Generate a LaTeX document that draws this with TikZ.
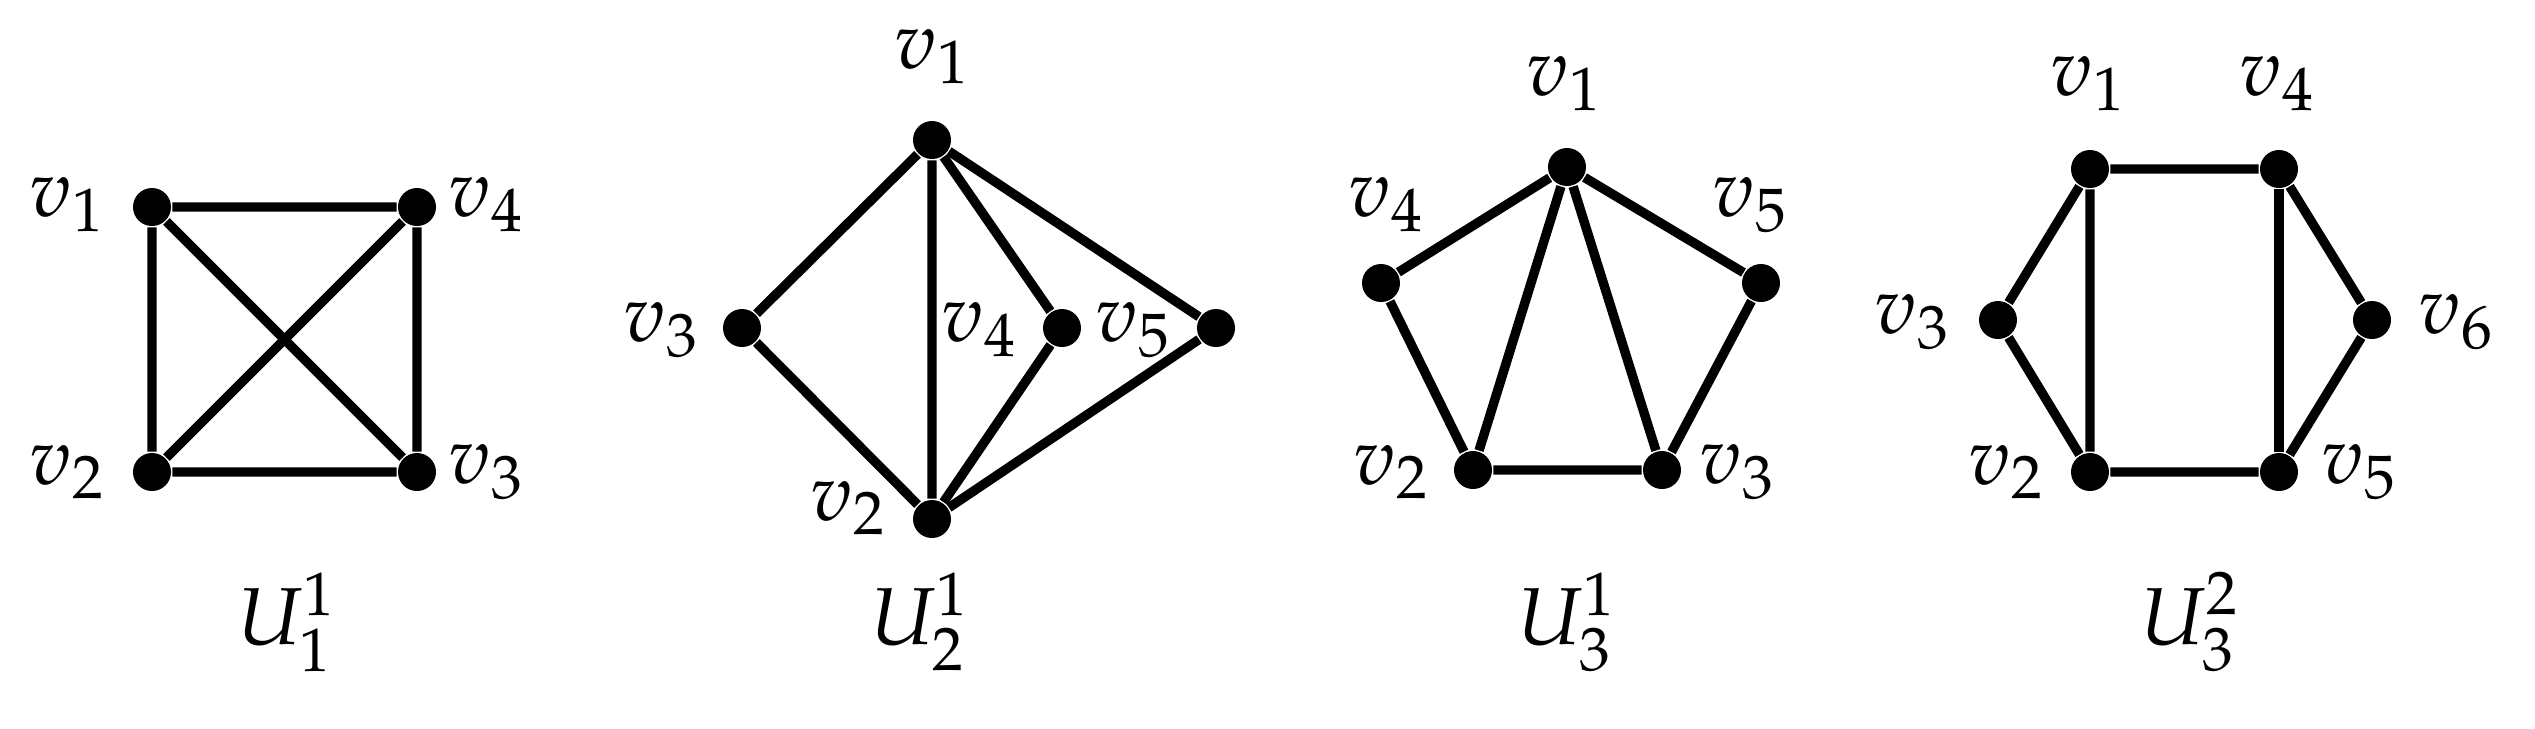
\documentclass[tikz,border=0pt]{standalone}
\usepackage{amsmath}
\usepackage{amssymb}
\usepackage{mathpazo}
\usetikzlibrary{calc}

\begin{document}
\begin{tikzpicture}[x=0.05mm,y=-0.05mm,
    font=\fontsize{11.5}{14}\selectfont,
    vertex/.style={circle,fill=black,inner sep=0pt,minimum size=1.9mm},
    edge/.style={line width=0.47mm},
    vlab/.style={inner sep=0pt},anchor=center]
  \useasboundingbox (0,0) rectangle (2535,728);
  % U_1^1
  \node[vertex] (a1) at (152,207) {};
  \node[vertex] (a2) at (152,472) {};
  \node[vertex] (a3) at (417,472) {};
  \node[vertex] (a4) at (417,207) {};
  \draw[edge] (a1) -- (a4) -- (a3) -- (a2) -- (a1) -- (a3);
  \draw[edge] (a2) -- (a4);
  \node[vlab] (la1) at (68,205) {$v_1$};
  \node[vlab] (la2) at (68,472) {$v_2$};
  \node[vlab] (la3) at (487,472) {$v_3$};
  \node[vlab] (la4) at (487,205) {$v_4$};
  \node (ua) at (288,622) {$U_1^1$};
  % U_2^1
  \node[vertex] (b1) at (932,140) {};
  \node[vertex] (b2) at (932,519) {};
  \node[vertex] (b3) at (742,328) {};
  \node[vertex] (b4) at (1062,328) {};
  \node[vertex] (b5) at (1216,328) {};
  \draw[edge] (b1) -- (b3) -- (b2) -- (b1);
  \draw[edge] (b1) -- (b4) -- (b2);
  \draw[edge] (b1) -- (b5) -- (b2);
  \node[vlab] (lb1) at (933,57) {$v_1$};
  \node[vlab] (lb2) at (849,508) {$v_2$};
  \node[vlab] (lb3) at (662,330) {$v_3$};
  \node[vlab] (lb4) at (980,330) {$v_4$};
  \node[vlab] (lb5) at (1134,330) {$v_5$};
  \node (ub) at (921,622) {$U_2^1$};
  % U_3^1
  \node[vertex] (c1) at (1567,167) {};
  \node[vertex] (c2) at (1473,470) {};
  \node[vertex] (c3) at (1662,470) {};
  \node[vertex] (c4) at (1381,283) {};
  \node[vertex] (c5) at (1761,283) {};
  \draw[edge] (c1) -- (c4) -- (c2) -- (c3) -- (c5) -- (c1);
  \draw[edge] (c2) -- (c1) -- (c3);
  \node[vlab] (lc1) at (1565,84) {$v_1$};
  \node[vlab] (lc2) at (1392,472) {$v_2$};
  \node[vlab] (lc3) at (1738,472) {$v_3$};
  \node[vlab] (lc4) at (1387,205) {$v_4$};
  \node[vlab] (lc5) at (1751,205) {$v_5$};
  \node (uc) at (1568,622) {$U_3^1$};
  % U_3^2
  \node[vertex] (d1) at (2090,169) {};
  \node[vertex] (d2) at (2090,472) {};
  \node[vertex] (d3) at (1998,320) {};
  \node[vertex] (d4) at (2279,169) {};
  \node[vertex] (d5) at (2279,472) {};
  \node[vertex] (d6) at (2372,320) {};
  \draw[edge] (d1) -- (d4) -- (d6) -- (d5) -- (d2) -- (d3) -- (d1) -- (d2);
  \draw[edge] (d4) -- (d5);
  \node[vlab] (ld1) at (2089,84) {$v_1$};
  \node[vlab] (ld2) at (2007,472) {$v_2$};
  \node[vlab] (ld3) at (1913,322) {$v_3$};
  \node[vlab] (ld4) at (2278,84) {$v_4$};
  \node[vlab] (ld5) at (2360,472) {$v_5$};
  \node[vlab] (ld6) at (2457,322) {$v_6$};
  \node (ud) at (2191,622) {$U_3^2$};
\end{tikzpicture}
\end{document}
